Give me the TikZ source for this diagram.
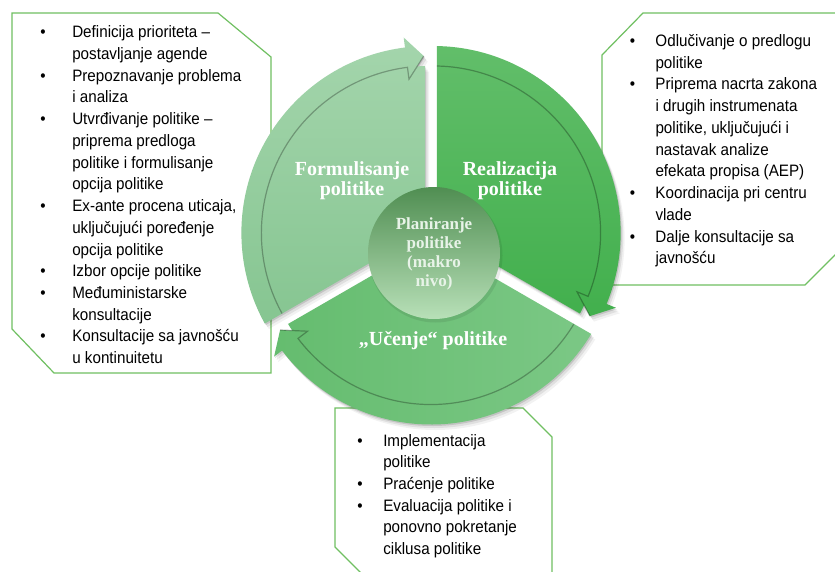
\documentclass[tikz,border=0pt]{standalone}
\usepackage{fontspec}
\setmainfont{Liberation Sans}[FakeStretch=0.92]
\newfontfamily\segfont{Liberation Serif}
\usetikzlibrary{calc}
\definecolor{boxline}{RGB}{112,192,98}
\definecolor{formA}{RGB}{164,213,172}
\definecolor{formB}{RGB}{126,193,138}
\definecolor{realA}{RGB}{98,190,106}
\definecolor{realB}{RGB}{56,171,68}
\definecolor{uceA}{RGB}{100,188,110}
\definecolor{uceB}{RGB}{124,200,134}
\definecolor{midA}{RGB}{80,142,82}
\definecolor{midB}{RGB}{184,224,184}
\definecolor{midtext}{RGB}{232,243,232}
\newcommand\cycfill[4]{\path[#1] (0,0) circle[radius=167] (#2:167) arc[start angle=#2,end angle=#3,radius=167] -- (#3:155) -- (#4:177) -- (#3:197) -- (#3:187) arc[start angle=#3,end angle=#2,radius=187] -- cycle;}
\newcommand\cycedge[3]{\draw[segedge] (#1:167) arc[start angle=#1,end angle=#2,radius=167] -- (#2:155) -- (#3:177);}
\newcommand\clipF{\clip (-3.4,300) -- (-3.38,1.95) -- (-261.5,-147.06) -- (-519.6,300) -- cycle;}
\newcommand\clipR{\clip (261.5,-147.06) -- (3.38,1.95) -- (3.4,300) -- (519.6,300) -- cycle;}
\newcommand\clipU{\clip (-258.1,-152.94) -- (0,-3.9) -- (258.1,-152.94) -- (0,-600) -- cycle;}
\tikzset{
  boxframe/.style={draw=boxline, line width=0.9pt},
  segedge/.style={draw=black, draw opacity=0.28, line width=0.9pt},
  boxtext/.style={inner sep=0pt, anchor=base west, font=\fontsize{12.4}{16.3}\selectfont},
  segtext/.style={inner sep=0pt, anchor=base, text=white, font=\segfont\bfseries\fontsize{15}{15}\selectfont},
  midtextstyle/.style={inner sep=0pt, anchor=base, text=midtext, font=\segfont\bfseries\fontsize{12.75}{14.25}\selectfont},
}
\begin{document}
\begin{tikzpicture}[x=0.75pt,y=0.75pt]
\useasboundingbox (0,0) rectangle (835,-571);
\clip (0,0) rectangle (835,-571);
\fill[white] (0,0) rectangle (835,-571);

% text boxes
\draw[boxframe] (12,-13) -- (218,-13) -- (271,-57) -- (271,-373) -- (54,-373) -- (12,-329) -- cycle;
\draw[boxframe] (602,-55) -- (643,-13) -- (845,-13) -- (845,-245) -- (805,-285) -- (602,-285) -- cycle;
\draw[boxframe] (335,-408) -- (523,-408) -- (552,-437) -- (552,-600) -- (388,-600) -- (335,-547) -- cycle;

% shadows
\foreach \dx/\dy/\op in {1/-1.5/0.12, 2.5/-3.5/0.08, 4/-5.5/0.05}{
  \begin{scope}[shift={(428.4+\dx,-233+\dy)}]
    \clipF \cycfill{fill=black,opacity=\op}{215}{97.2}{91.5}
  \end{scope}
  \begin{scope}[shift={(433.6+\dx,-233+\dy)}]
    \clipR \cycfill{fill=black,opacity=\op}{95}{-22.3}{-28}
  \end{scope}
  \begin{scope}[shift={(431+\dx,-237.5+\dy)}]
    \clipU \cycfill{fill=black,opacity=\op}{335}{217.2}{211.5}
  \end{scope}
}

% Formulisanje segment
\begin{scope}[shift={(428.4,-233)}]
  \clipF
  \cycfill{top color=formA,bottom color=formB}{215}{97.2}{91.5}
  \cycedge{215}{97.2}{91.5}
\end{scope}
% Realizacija segment
\begin{scope}[shift={(433.6,-233)}]
  \clipR
  \cycfill{top color=realA,bottom color=realB}{95}{-22.3}{-28}
  \cycedge{95}{-22.3}{-28}
\end{scope}
% Ucenje segment
\begin{scope}[shift={(431,-237.5)}]
  \clipU
  \cycfill{left color=uceA,right color=uceB}{335}{217.2}{211.5}
  \cycedge{335}{217.2}{211.5}
\end{scope}

% centre circle
\fill[black,opacity=0.08] (435.5,-255.5) circle[radius=67];
\shade[top color=midA,bottom color=midB] (434,-253) circle[radius=66];

% segment labels
\node[segtext] (tF) at (352,-175.7) {\begin{tabular}[t]{@{}c@{}}Formulisanje\\politike\end{tabular}};
\node[segtext] (tR) at (510,-175.7) {\begin{tabular}[t]{@{}c@{}}Realizacija\\politike\end{tabular}};
\node[segtext] (tU) at (433,-345) {„Učenje“ politike};
\node[midtextstyle] (tM) at (434,-229.3) {\begin{tabular}[t]{@{}c@{}}Planiranje\\politike\\(makro\\nivo)\end{tabular}};

% box texts
\node[boxtext] (bL) at (40,-37.7) {\begin{tabular}[t]{@{}p{24pt}@{}l@{}}
•& Definicija prioriteta –\\
 & postavljanje agende\\
•& Prepoznavanje problema\\
 & i analiza\\
•& Utvrđivanje politike –\\
 & priprema predloga\\
 & politike i formulisanje\\
 & opcija politike\\
•& Ex-ante procena uticaja,\\
 & uključujući poređenje\\
 & opcija politike\\
•& Izbor opcije politike\\
•& Međuministarske\\
 & konsultacije\\
•& Konsultacije sa javnošću\\
 & u kontinuitetu
\end{tabular}};
\node[boxtext] (bR) at (629.5,-46.5) {\begin{tabular}[t]{@{}p{19.3pt}@{}l@{}}
•& Odlučivanje o predlogu\\
 & politike\\
•& Priprema nacrta zakona\\
 & i drugih instrumenata\\
 & politike, uključujući i\\
 & nastavak analize\\
 & efekata propisa (AEP)\\
•& Koordinacija pri centru\\
 & vlade\\
•& Dalje konsultacije sa\\
 & javnošću
\end{tabular}};
\node[boxtext] (bB) at (357,-446) {\begin{tabular}[t]{@{}p{19.5pt}@{}l@{}}
•& Implementacija\\
 & politike\\
•& Praćenje politike\\
•& Evaluacija politike i\\
 & ponovno pokretanje\\
 & ciklusa politike
\end{tabular}};
\end{tikzpicture}
\end{document}
